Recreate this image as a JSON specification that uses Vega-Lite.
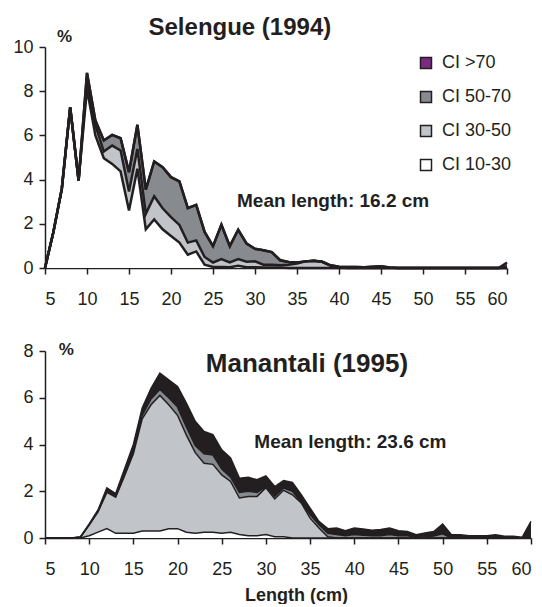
{
"$schema":"https://vega.github.io/schema/vega-lite/v6.json",
"background":"white",
"padding":{"left":12,"top":16,"right":0,"bottom":0},
"bounds":"flush",
"spacing":83,
"config":{"font":"Liberation Sans","view":{"stroke":null},
"axis":{"grid":false,"domainColor":"#231f20","domainWidth":1.5,"tickColor":"#231f20","tickWidth":1.5,"tickSize":6,"labelFont":"Liberation Sans","labelFontSize":18,"labelColor":"#231f20"},
"axisX":{"labelPadding":16},"axisY":{"labelPadding":6},
"legend":{"symbolStrokeColor":"#231f20","symbolStrokeWidth":1.5}},
"resolve":{"scale":{"color":"independent"},"legend":{"color":"independent"}},
"datasets":{
"sel":[
{"len":5,"cls":"CI 10-30","pct":0},{"len":5,"cls":"CI 30-50","pct":0},{"len":5,"cls":"CI 50-70","pct":0},{"len":5,"cls":"CI >70","pct":0},
{"len":6,"cls":"CI 10-30","pct":1.63},{"len":6,"cls":"CI 30-50","pct":0},{"len":6,"cls":"CI 50-70","pct":0},{"len":6,"cls":"CI >70","pct":0},
{"len":7,"cls":"CI 10-30","pct":3.58},{"len":7,"cls":"CI 30-50","pct":0},{"len":7,"cls":"CI 50-70","pct":0},{"len":7,"cls":"CI >70","pct":0},
{"len":8,"cls":"CI 10-30","pct":7.27},{"len":8,"cls":"CI 30-50","pct":0},{"len":8,"cls":"CI 50-70","pct":0},{"len":8,"cls":"CI >70","pct":0},
{"len":9,"cls":"CI 10-30","pct":3.96},{"len":9,"cls":"CI 30-50","pct":0},{"len":9,"cls":"CI 50-70","pct":0},{"len":9,"cls":"CI >70","pct":0},
{"len":10,"cls":"CI 10-30","pct":8.1},{"len":10,"cls":"CI 30-50","pct":0.4},{"len":10,"cls":"CI 50-70","pct":0.33},{"len":10,"cls":"CI >70","pct":0},
{"len":11,"cls":"CI 10-30","pct":6.0},{"len":11,"cls":"CI 30-50","pct":0.45},{"len":11,"cls":"CI 50-70","pct":0.22},{"len":11,"cls":"CI >70","pct":0},
{"len":12,"cls":"CI 10-30","pct":4.97},{"len":12,"cls":"CI 30-50","pct":0.3},{"len":12,"cls":"CI 50-70","pct":0.5},{"len":12,"cls":"CI >70","pct":0},
{"len":13,"cls":"CI 10-30","pct":4.71},{"len":13,"cls":"CI 30-50","pct":0.83},{"len":13,"cls":"CI 50-70","pct":0.48},{"len":13,"cls":"CI >70","pct":0},
{"len":14,"cls":"CI 10-30","pct":4.37},{"len":14,"cls":"CI 30-50","pct":0.95},{"len":14,"cls":"CI 50-70","pct":0.55},{"len":14,"cls":"CI >70","pct":0},
{"len":15,"cls":"CI 10-30","pct":2.6},{"len":15,"cls":"CI 30-50","pct":0.86},{"len":15,"cls":"CI 50-70","pct":0.88},{"len":15,"cls":"CI >70","pct":0},
{"len":16,"cls":"CI 10-30","pct":4.49},{"len":16,"cls":"CI 30-50","pct":0.9},{"len":16,"cls":"CI 50-70","pct":1.09},{"len":16,"cls":"CI >70","pct":0},
{"len":17,"cls":"CI 10-30","pct":1.75},{"len":17,"cls":"CI 30-50","pct":0.7},{"len":17,"cls":"CI 50-70","pct":1.1},{"len":17,"cls":"CI >70","pct":0},
{"len":18,"cls":"CI 10-30","pct":2.2},{"len":18,"cls":"CI 30-50","pct":1.05},{"len":18,"cls":"CI 50-70","pct":1.57},{"len":18,"cls":"CI >70","pct":0},
{"len":19,"cls":"CI 10-30","pct":1.75},{"len":19,"cls":"CI 30-50","pct":0.95},{"len":19,"cls":"CI 50-70","pct":1.86},{"len":19,"cls":"CI >70","pct":0},
{"len":20,"cls":"CI 10-30","pct":1.45},{"len":20,"cls":"CI 30-50","pct":0.85},{"len":20,"cls":"CI 50-70","pct":1.81},{"len":20,"cls":"CI >70","pct":0},
{"len":21,"cls":"CI 10-30","pct":1.15},{"len":21,"cls":"CI 30-50","pct":0.8},{"len":21,"cls":"CI 50-70","pct":1.97},{"len":21,"cls":"CI >70","pct":0},
{"len":22,"cls":"CI 10-30","pct":0.6},{"len":22,"cls":"CI 30-50","pct":0.55},{"len":22,"cls":"CI 50-70","pct":1.56},{"len":22,"cls":"CI >70","pct":0},
{"len":23,"cls":"CI 10-30","pct":0.75},{"len":23,"cls":"CI 30-50","pct":0.5},{"len":23,"cls":"CI 50-70","pct":1.61},{"len":23,"cls":"CI >70","pct":0},
{"len":24,"cls":"CI 10-30","pct":0.15},{"len":24,"cls":"CI 30-50","pct":0.35},{"len":24,"cls":"CI 50-70","pct":1.13},{"len":24,"cls":"CI >70","pct":0},
{"len":25,"cls":"CI 10-30","pct":0.05},{"len":25,"cls":"CI 30-50","pct":0.2},{"len":25,"cls":"CI 50-70","pct":0.74},{"len":25,"cls":"CI >70","pct":0},
{"len":26,"cls":"CI 10-30","pct":0.05},{"len":26,"cls":"CI 30-50","pct":0.35},{"len":26,"cls":"CI 50-70","pct":1.56},{"len":26,"cls":"CI >70","pct":0},
{"len":27,"cls":"CI 10-30","pct":0.03},{"len":27,"cls":"CI 30-50","pct":0.22},{"len":27,"cls":"CI 50-70","pct":0.74},{"len":27,"cls":"CI >70","pct":0},
{"len":28,"cls":"CI 10-30","pct":0.1},{"len":28,"cls":"CI 30-50","pct":0.3},{"len":28,"cls":"CI 50-70","pct":1.33},{"len":28,"cls":"CI >70","pct":0},
{"len":29,"cls":"CI 10-30","pct":0.03},{"len":29,"cls":"CI 30-50","pct":0.25},{"len":29,"cls":"CI 50-70","pct":0.82},{"len":29,"cls":"CI >70","pct":0},
{"len":30,"cls":"CI 10-30","pct":0.03},{"len":30,"cls":"CI 30-50","pct":0.27},{"len":30,"cls":"CI 50-70","pct":0.57},{"len":30,"cls":"CI >70","pct":0},
{"len":31,"cls":"CI 10-30","pct":0.02},{"len":31,"cls":"CI 30-50","pct":0.13},{"len":31,"cls":"CI 50-70","pct":0.65},{"len":31,"cls":"CI >70","pct":0},
{"len":32,"cls":"CI 10-30","pct":0.02},{"len":32,"cls":"CI 30-50","pct":0.13},{"len":32,"cls":"CI 50-70","pct":0.57},{"len":32,"cls":"CI >70","pct":0},
{"len":33,"cls":"CI 10-30","pct":0.02},{"len":33,"cls":"CI 30-50","pct":0.1},{"len":33,"cls":"CI 50-70","pct":0.23},{"len":33,"cls":"CI >70","pct":0},
{"len":34,"cls":"CI 10-30","pct":0},{"len":34,"cls":"CI 30-50","pct":0.15},{"len":34,"cls":"CI 50-70","pct":0.12},{"len":34,"cls":"CI >70","pct":0},
{"len":35,"cls":"CI 10-30","pct":0},{"len":35,"cls":"CI 30-50","pct":0.2},{"len":35,"cls":"CI 50-70","pct":0.05},{"len":35,"cls":"CI >70","pct":0},
{"len":36,"cls":"CI 10-30","pct":0},{"len":36,"cls":"CI 30-50","pct":0.3},{"len":36,"cls":"CI 50-70","pct":0},{"len":36,"cls":"CI >70","pct":0},
{"len":37,"cls":"CI 10-30","pct":0},{"len":37,"cls":"CI 30-50","pct":0.33},{"len":37,"cls":"CI 50-70","pct":0},{"len":37,"cls":"CI >70","pct":0},
{"len":38,"cls":"CI 10-30","pct":0},{"len":38,"cls":"CI 30-50","pct":0.28},{"len":38,"cls":"CI 50-70","pct":0},{"len":38,"cls":"CI >70","pct":0},
{"len":39,"cls":"CI 10-30","pct":0},{"len":39,"cls":"CI 30-50","pct":0.1},{"len":39,"cls":"CI 50-70","pct":0.02},{"len":39,"cls":"CI >70","pct":0},
{"len":40,"cls":"CI 10-30","pct":0},{"len":40,"cls":"CI 30-50","pct":0.03},{"len":40,"cls":"CI 50-70","pct":0.03},{"len":40,"cls":"CI >70","pct":0},
{"len":41,"cls":"CI 10-30","pct":0},{"len":41,"cls":"CI 30-50","pct":0},{"len":41,"cls":"CI 50-70","pct":0.05},{"len":41,"cls":"CI >70","pct":0},
{"len":42,"cls":"CI 10-30","pct":0},{"len":42,"cls":"CI 30-50","pct":0},{"len":42,"cls":"CI 50-70","pct":0.04},{"len":42,"cls":"CI >70","pct":0},
{"len":43,"cls":"CI 10-30","pct":0},{"len":43,"cls":"CI 30-50","pct":0},{"len":43,"cls":"CI 50-70","pct":0.03},{"len":43,"cls":"CI >70","pct":0},
{"len":44,"cls":"CI 10-30","pct":0},{"len":44,"cls":"CI 30-50","pct":0},{"len":44,"cls":"CI 50-70","pct":0.06},{"len":44,"cls":"CI >70","pct":0},
{"len":45,"cls":"CI 10-30","pct":0},{"len":45,"cls":"CI 30-50","pct":0},{"len":45,"cls":"CI 50-70","pct":0.08},{"len":45,"cls":"CI >70","pct":0},
{"len":46,"cls":"CI 10-30","pct":0},{"len":46,"cls":"CI 30-50","pct":0},{"len":46,"cls":"CI 50-70","pct":0.02},{"len":46,"cls":"CI >70","pct":0},
{"len":47,"cls":"CI 10-30","pct":0},{"len":47,"cls":"CI 30-50","pct":0},{"len":47,"cls":"CI 50-70","pct":0},{"len":47,"cls":"CI >70","pct":0},
{"len":48,"cls":"CI 10-30","pct":0},{"len":48,"cls":"CI 30-50","pct":0},{"len":48,"cls":"CI 50-70","pct":0},{"len":48,"cls":"CI >70","pct":0},
{"len":49,"cls":"CI 10-30","pct":0},{"len":49,"cls":"CI 30-50","pct":0},{"len":49,"cls":"CI 50-70","pct":0},{"len":49,"cls":"CI >70","pct":0},
{"len":50,"cls":"CI 10-30","pct":0},{"len":50,"cls":"CI 30-50","pct":0},{"len":50,"cls":"CI 50-70","pct":0},{"len":50,"cls":"CI >70","pct":0},
{"len":51,"cls":"CI 10-30","pct":0},{"len":51,"cls":"CI 30-50","pct":0},{"len":51,"cls":"CI 50-70","pct":0},{"len":51,"cls":"CI >70","pct":0},
{"len":52,"cls":"CI 10-30","pct":0},{"len":52,"cls":"CI 30-50","pct":0},{"len":52,"cls":"CI 50-70","pct":0},{"len":52,"cls":"CI >70","pct":0},
{"len":53,"cls":"CI 10-30","pct":0},{"len":53,"cls":"CI 30-50","pct":0},{"len":53,"cls":"CI 50-70","pct":0},{"len":53,"cls":"CI >70","pct":0},
{"len":54,"cls":"CI 10-30","pct":0},{"len":54,"cls":"CI 30-50","pct":0},{"len":54,"cls":"CI 50-70","pct":0},{"len":54,"cls":"CI >70","pct":0},
{"len":55,"cls":"CI 10-30","pct":0},{"len":55,"cls":"CI 30-50","pct":0},{"len":55,"cls":"CI 50-70","pct":0},{"len":55,"cls":"CI >70","pct":0},
{"len":56,"cls":"CI 10-30","pct":0},{"len":56,"cls":"CI 30-50","pct":0},{"len":56,"cls":"CI 50-70","pct":0},{"len":56,"cls":"CI >70","pct":0},
{"len":57,"cls":"CI 10-30","pct":0},{"len":57,"cls":"CI 30-50","pct":0},{"len":57,"cls":"CI 50-70","pct":0},{"len":57,"cls":"CI >70","pct":0},
{"len":58,"cls":"CI 10-30","pct":0},{"len":58,"cls":"CI 30-50","pct":0},{"len":58,"cls":"CI 50-70","pct":0},{"len":58,"cls":"CI >70","pct":0},
{"len":59,"cls":"CI 10-30","pct":0},{"len":59,"cls":"CI 30-50","pct":0},{"len":59,"cls":"CI 50-70","pct":0},{"len":59,"cls":"CI >70","pct":0},
{"len":60,"cls":"CI 10-30","pct":0},{"len":60,"cls":"CI 30-50","pct":0},{"len":60,"cls":"CI 50-70","pct":0.05},{"len":60,"cls":"CI >70","pct":0.2}
],
"man":[
{"len":5,"cls":"CI 10-30","pct":0},{"len":5,"cls":"CI 30-50","pct":0},{"len":5,"cls":"CI 50-70","pct":0},{"len":5,"cls":"CI >70","pct":0},
{"len":6,"cls":"CI 10-30","pct":0},{"len":6,"cls":"CI 30-50","pct":0},{"len":6,"cls":"CI 50-70","pct":0},{"len":6,"cls":"CI >70","pct":0},
{"len":7,"cls":"CI 10-30","pct":0},{"len":7,"cls":"CI 30-50","pct":0},{"len":7,"cls":"CI 50-70","pct":0},{"len":7,"cls":"CI >70","pct":0},
{"len":8,"cls":"CI 10-30","pct":0},{"len":8,"cls":"CI 30-50","pct":0},{"len":8,"cls":"CI 50-70","pct":0},{"len":8,"cls":"CI >70","pct":0},
{"len":9,"cls":"CI 10-30","pct":0},{"len":9,"cls":"CI 30-50","pct":0.03},{"len":9,"cls":"CI 50-70","pct":0},{"len":9,"cls":"CI >70","pct":0.02},
{"len":10,"cls":"CI 10-30","pct":0.1},{"len":10,"cls":"CI 30-50","pct":0.45},{"len":10,"cls":"CI 50-70","pct":0.02},{"len":10,"cls":"CI >70","pct":0.03},
{"len":11,"cls":"CI 10-30","pct":0.25},{"len":11,"cls":"CI 30-50","pct":0.87},{"len":11,"cls":"CI 50-70","pct":0.03},{"len":11,"cls":"CI >70","pct":0.05},
{"len":12,"cls":"CI 10-30","pct":0.4},{"len":12,"cls":"CI 30-50","pct":1.55},{"len":12,"cls":"CI 50-70","pct":0.05},{"len":12,"cls":"CI >70","pct":0.14},
{"len":13,"cls":"CI 10-30","pct":0.2},{"len":13,"cls":"CI 30-50","pct":1.55},{"len":13,"cls":"CI 50-70","pct":0.05},{"len":13,"cls":"CI >70","pct":0.1},
{"len":14,"cls":"CI 10-30","pct":0.2},{"len":14,"cls":"CI 30-50","pct":2.45},{"len":14,"cls":"CI 50-70","pct":0.07},{"len":14,"cls":"CI >70","pct":0.23},
{"len":15,"cls":"CI 10-30","pct":0.2},{"len":15,"cls":"CI 30-50","pct":3.4},{"len":15,"cls":"CI 50-70","pct":0.1},{"len":15,"cls":"CI >70","pct":0.3},
{"len":16,"cls":"CI 10-30","pct":0.3},{"len":16,"cls":"CI 30-50","pct":4.8},{"len":16,"cls":"CI 50-70","pct":0.15},{"len":16,"cls":"CI >70","pct":0.31},
{"len":17,"cls":"CI 10-30","pct":0.3},{"len":17,"cls":"CI 30-50","pct":5.4},{"len":17,"cls":"CI 50-70","pct":0.25},{"len":17,"cls":"CI >70","pct":0.45},
{"len":18,"cls":"CI 10-30","pct":0.3},{"len":18,"cls":"CI 30-50","pct":5.8},{"len":18,"cls":"CI 50-70","pct":0.25},{"len":18,"cls":"CI >70","pct":0.7},
{"len":19,"cls":"CI 10-30","pct":0.4},{"len":19,"cls":"CI 30-50","pct":5.3},{"len":19,"cls":"CI 50-70","pct":0.3},{"len":19,"cls":"CI >70","pct":0.77},
{"len":20,"cls":"CI 10-30","pct":0.4},{"len":20,"cls":"CI 30-50","pct":4.85},{"len":20,"cls":"CI 50-70","pct":0.35},{"len":20,"cls":"CI >70","pct":0.88},
{"len":21,"cls":"CI 10-30","pct":0.25},{"len":21,"cls":"CI 30-50","pct":4.15},{"len":21,"cls":"CI 50-70","pct":0.35},{"len":21,"cls":"CI >70","pct":1.02},
{"len":22,"cls":"CI 10-30","pct":0.2},{"len":22,"cls":"CI 30-50","pct":3.45},{"len":22,"cls":"CI 50-70","pct":0.3},{"len":22,"cls":"CI >70","pct":1.04},
{"len":23,"cls":"CI 10-30","pct":0.25},{"len":23,"cls":"CI 30-50","pct":2.95},{"len":23,"cls":"CI 50-70","pct":0.4},{"len":23,"cls":"CI >70","pct":0.96},
{"len":24,"cls":"CI 10-30","pct":0.25},{"len":24,"cls":"CI 30-50","pct":2.9},{"len":24,"cls":"CI 50-70","pct":0.4},{"len":24,"cls":"CI >70","pct":0.87},
{"len":25,"cls":"CI 10-30","pct":0.2},{"len":25,"cls":"CI 30-50","pct":2.5},{"len":25,"cls":"CI 50-70","pct":0.25},{"len":25,"cls":"CI >70","pct":0.82},
{"len":26,"cls":"CI 10-30","pct":0.25},{"len":26,"cls":"CI 30-50","pct":2.17},{"len":26,"cls":"CI 50-70","pct":0.18},{"len":26,"cls":"CI >70","pct":0.82},
{"len":27,"cls":"CI 10-30","pct":0.15},{"len":27,"cls":"CI 30-50","pct":1.56},{"len":27,"cls":"CI 50-70","pct":0.24},{"len":27,"cls":"CI >70","pct":0.61},
{"len":28,"cls":"CI 10-30","pct":0.1},{"len":28,"cls":"CI 30-50","pct":1.68},{"len":28,"cls":"CI 50-70","pct":0.22},{"len":28,"cls":"CI >70","pct":0.6},
{"len":29,"cls":"CI 10-30","pct":0.1},{"len":29,"cls":"CI 30-50","pct":1.68},{"len":29,"cls":"CI 50-70","pct":0.17},{"len":29,"cls":"CI >70","pct":0.54},
{"len":30,"cls":"CI 10-30","pct":0.15},{"len":30,"cls":"CI 30-50","pct":2.0},{"len":30,"cls":"CI 50-70","pct":0.05},{"len":30,"cls":"CI >70","pct":0.46},
{"len":31,"cls":"CI 10-30","pct":0.05},{"len":31,"cls":"CI 30-50","pct":1.62},{"len":31,"cls":"CI 50-70","pct":0.11},{"len":31,"cls":"CI >70","pct":0.42},
{"len":32,"cls":"CI 10-30","pct":0.05},{"len":32,"cls":"CI 30-50","pct":1.99},{"len":32,"cls":"CI 50-70","pct":0.1},{"len":32,"cls":"CI >70","pct":0.32},
{"len":33,"cls":"CI 10-30","pct":0},{"len":33,"cls":"CI 30-50","pct":1.85},{"len":33,"cls":"CI 50-70","pct":0.15},{"len":33,"cls":"CI >70","pct":0.38},
{"len":34,"cls":"CI 10-30","pct":0},{"len":34,"cls":"CI 30-50","pct":1.5},{"len":34,"cls":"CI 50-70","pct":0.02},{"len":34,"cls":"CI >70","pct":0.33},
{"len":35,"cls":"CI 10-30","pct":0},{"len":35,"cls":"CI 30-50","pct":0.85},{"len":35,"cls":"CI 50-70","pct":0.15},{"len":35,"cls":"CI >70","pct":0.28},
{"len":36,"cls":"CI 10-30","pct":0},{"len":36,"cls":"CI 30-50","pct":0.43},{"len":36,"cls":"CI 50-70","pct":0.14},{"len":36,"cls":"CI >70","pct":0.14},
{"len":37,"cls":"CI 10-30","pct":0},{"len":37,"cls":"CI 30-50","pct":0.05},{"len":37,"cls":"CI 50-70","pct":0.15},{"len":37,"cls":"CI >70","pct":0.2},
{"len":38,"cls":"CI 10-30","pct":0},{"len":38,"cls":"CI 30-50","pct":0},{"len":38,"cls":"CI 50-70","pct":0.15},{"len":38,"cls":"CI >70","pct":0.28},
{"len":39,"cls":"CI 10-30","pct":0},{"len":39,"cls":"CI 30-50","pct":0},{"len":39,"cls":"CI 50-70","pct":0.1},{"len":39,"cls":"CI >70","pct":0.21},
{"len":40,"cls":"CI 10-30","pct":0},{"len":40,"cls":"CI 30-50","pct":0},{"len":40,"cls":"CI 50-70","pct":0.15},{"len":40,"cls":"CI >70","pct":0.28},
{"len":41,"cls":"CI 10-30","pct":0},{"len":41,"cls":"CI 30-50","pct":0},{"len":41,"cls":"CI 50-70","pct":0.12},{"len":41,"cls":"CI >70","pct":0.26},
{"len":42,"cls":"CI 10-30","pct":0},{"len":42,"cls":"CI 30-50","pct":0},{"len":42,"cls":"CI 50-70","pct":0.1},{"len":42,"cls":"CI >70","pct":0.23},
{"len":43,"cls":"CI 10-30","pct":0},{"len":43,"cls":"CI 30-50","pct":0},{"len":43,"cls":"CI 50-70","pct":0.1},{"len":43,"cls":"CI >70","pct":0.26},
{"len":44,"cls":"CI 10-30","pct":0},{"len":44,"cls":"CI 30-50","pct":0},{"len":44,"cls":"CI 50-70","pct":0.15},{"len":44,"cls":"CI >70","pct":0.28},
{"len":45,"cls":"CI 10-30","pct":0},{"len":45,"cls":"CI 30-50","pct":0},{"len":45,"cls":"CI 50-70","pct":0.1},{"len":45,"cls":"CI >70","pct":0.21},
{"len":46,"cls":"CI 10-30","pct":0},{"len":46,"cls":"CI 30-50","pct":0},{"len":46,"cls":"CI 50-70","pct":0.1},{"len":46,"cls":"CI >70","pct":0.18},
{"len":47,"cls":"CI 10-30","pct":0},{"len":47,"cls":"CI 30-50","pct":0},{"len":47,"cls":"CI 50-70","pct":0.03},{"len":47,"cls":"CI >70","pct":0.11},
{"len":48,"cls":"CI 10-30","pct":0},{"len":48,"cls":"CI 30-50","pct":0},{"len":48,"cls":"CI 50-70","pct":0.05},{"len":48,"cls":"CI >70","pct":0.16},
{"len":49,"cls":"CI 10-30","pct":0},{"len":49,"cls":"CI 30-50","pct":0},{"len":49,"cls":"CI 50-70","pct":0.08},{"len":49,"cls":"CI >70","pct":0.2},
{"len":50,"cls":"CI 10-30","pct":0},{"len":50,"cls":"CI 30-50","pct":0},{"len":50,"cls":"CI 50-70","pct":0.18},{"len":50,"cls":"CI >70","pct":0.42},
{"len":51,"cls":"CI 10-30","pct":0},{"len":51,"cls":"CI 30-50","pct":0},{"len":51,"cls":"CI 50-70","pct":0},{"len":51,"cls":"CI >70","pct":0.14},
{"len":52,"cls":"CI 10-30","pct":0},{"len":52,"cls":"CI 30-50","pct":0},{"len":52,"cls":"CI 50-70","pct":0},{"len":52,"cls":"CI >70","pct":0.14},
{"len":53,"cls":"CI 10-30","pct":0},{"len":53,"cls":"CI 30-50","pct":0},{"len":53,"cls":"CI 50-70","pct":0},{"len":53,"cls":"CI >70","pct":0.1},
{"len":54,"cls":"CI 10-30","pct":0},{"len":54,"cls":"CI 30-50","pct":0},{"len":54,"cls":"CI 50-70","pct":0},{"len":54,"cls":"CI >70","pct":0.1},
{"len":55,"cls":"CI 10-30","pct":0},{"len":55,"cls":"CI 30-50","pct":0},{"len":55,"cls":"CI 50-70","pct":0},{"len":55,"cls":"CI >70","pct":0.1},
{"len":56,"cls":"CI 10-30","pct":0},{"len":56,"cls":"CI 30-50","pct":0},{"len":56,"cls":"CI 50-70","pct":0},{"len":56,"cls":"CI >70","pct":0.14},
{"len":57,"cls":"CI 10-30","pct":0},{"len":57,"cls":"CI 30-50","pct":0},{"len":57,"cls":"CI 50-70","pct":0},{"len":57,"cls":"CI >70","pct":0.08},
{"len":58,"cls":"CI 10-30","pct":0},{"len":58,"cls":"CI 30-50","pct":0},{"len":58,"cls":"CI 50-70","pct":0},{"len":58,"cls":"CI >70","pct":0.07},
{"len":59,"cls":"CI 10-30","pct":0},{"len":59,"cls":"CI 30-50","pct":0},{"len":59,"cls":"CI 50-70","pct":0},{"len":59,"cls":"CI >70","pct":0.03},
{"len":60,"cls":"CI 10-30","pct":0},{"len":60,"cls":"CI 30-50","pct":0},{"len":60,"cls":"CI 50-70","pct":0},{"len":60,"cls":"CI >70","pct":0.71}
]},
"vconcat":[
{"width":462,"height":221,
"layer":[
{"data":{"name":"sel"},
"mark":{"type":"area"},
"encoding":{
"x":{"field":"len","type":"quantitative","scale":{"domain":[5,60],"nice":false},"axis":{"values":[5,10,15,20,25,30,35,40,45,50,55,60],"title":null}},
"y":{"field":"pct","type":"quantitative","stack":"zero","scale":{"domain":[0,10],"nice":false},"axis":{"values":[0,2,4,6,8,10],"title":null}},
"color":{"field":"cls","type":"nominal","scale":{"domain":["CI >70","CI 50-70","CI 30-50","CI 10-30"],"range":["#7b2a80","#878b90","#c1c4c9","#ffffff"]},
"legend":{"orient":"none","legendX":372,"legendY":7,"title":null,"symbolType":"square","symbolSize":121,"labelFontSize":18,"labelColor":"#231f20","labelFont":"Liberation Sans","rowPadding":16,"labelOffset":7,"symbolOpacity":1,"symbolStrokeColor":"#231f20","symbolStrokeWidth":1.5}},
"order":{"field":"cls","sort":"ascending"}}},
{"data":{"name":"sel"},
"mark":{"type":"line","color":"#231f20","strokeWidth":2.5,"strokeJoin":"miter"},
"encoding":{
"x":{"field":"len","type":"quantitative","scale":{"domain":[5,60],"nice":false}},
"y":{"field":"pct","type":"quantitative","stack":"zero","scale":{"domain":[0,10],"nice":false}},
"detail":{"field":"cls","type":"nominal"},
"order":{"field":"cls","sort":"ascending"}}},
{"data":{"values":[{}]},"mark":{"type":"text","fontWeight":"bold","fontSize":24,"color":"#231f20","align":"center","baseline":"alphabetic","text":"Selengue (1994)"},
"encoding":{"x":{"datum":28.2,"type":"quantitative","scale":{"domain":[5,60],"nice":false}},"y":{"datum":10.54,"type":"quantitative","scale":{"domain":[0,10],"nice":false}}}},
{"data":{"values":[{}]},"mark":{"type":"text","fontWeight":"bold","fontSize":17,"color":"#231f20","align":"center","baseline":"alphabetic","text":"%"},
"encoding":{"x":{"datum":7.32,"type":"quantitative","scale":{"domain":[5,60],"nice":false}},"y":{"datum":10.23,"type":"quantitative","scale":{"domain":[0,10],"nice":false}}}},
{"data":{"values":[{}]},"mark":{"type":"text","fontWeight":"bold","fontSize":19,"color":"#231f20","align":"center","baseline":"alphabetic","text":"Mean length: 16.2 cm"},
"encoding":{"x":{"datum":39.3,"type":"quantitative","scale":{"domain":[5,60],"nice":false}},"y":{"datum":2.77,"type":"quantitative","scale":{"domain":[0,10],"nice":false}}}}
]},
{"width":486,"height":187,
"layer":[
{"data":{"name":"man"},
"mark":{"type":"area"},
"encoding":{
"x":{"field":"len","type":"quantitative","scale":{"domain":[5,60],"nice":false},"axis":{"values":[5,10,15,20,25,30,35,40,45,50,55,60],"title":"Length (cm)","titleFont":"Liberation Sans","titleFontSize":18,"titleFontWeight":"bold","titleColor":"#231f20","titlePadding":8,"titleX":251}},
"y":{"field":"pct","type":"quantitative","stack":"zero","scale":{"domain":[0,8],"nice":false},"axis":{"values":[0,2,4,6,8],"title":null}},
"color":{"field":"cls","type":"nominal","scale":{"domain":["CI >70","CI 50-70","CI 30-50","CI 10-30"],"range":["#231f20","#878b90","#c1c4c9","#ffffff"]},"legend":null},
"order":{"field":"cls","sort":"ascending"}}},
{"data":{"name":"man"},
"mark":{"type":"line","color":"#231f20","strokeWidth":1.5,"strokeJoin":"miter"},
"encoding":{
"x":{"field":"len","type":"quantitative","scale":{"domain":[5,60],"nice":false}},
"y":{"field":"pct","type":"quantitative","stack":"zero","scale":{"domain":[0,8],"nice":false}},
"detail":{"field":"cls","type":"nominal"},
"order":{"field":"cls","sort":"ascending"}}},
{"data":{"values":[{}]},"mark":{"type":"text","fontWeight":"bold","fontSize":26,"color":"#231f20","align":"center","baseline":"alphabetic","text":"Manantali (1995)"},
"encoding":{"x":{"datum":34.64,"type":"quantitative","scale":{"domain":[5,60],"nice":false}},"y":{"datum":7.09,"type":"quantitative","scale":{"domain":[0,8],"nice":false}}}},
{"data":{"values":[{}]},"mark":{"type":"text","fontWeight":"bold","fontSize":17,"color":"#231f20","align":"center","baseline":"alphabetic","text":"%"},
"encoding":{"x":{"datum":7.4,"type":"quantitative","scale":{"domain":[5,60],"nice":false}},"y":{"datum":7.83,"type":"quantitative","scale":{"domain":[0,8],"nice":false}}}},
{"data":{"values":[{}]},"mark":{"type":"text","fontWeight":"bold","fontSize":19,"color":"#231f20","align":"center","baseline":"alphabetic","text":"Mean length: 23.6 cm"},
"encoding":{"x":{"datum":39.56,"type":"quantitative","scale":{"domain":[5,60],"nice":false}},"y":{"datum":3.85,"type":"quantitative","scale":{"domain":[0,8],"nice":false}}}}
]}
]
}
